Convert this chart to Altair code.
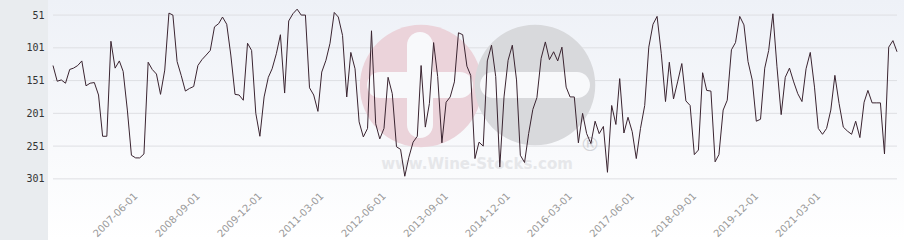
import altair as alt
import pandas as pd

# ---------------- data ----------------
START = "2005-10-01"
VALUES = [
    128, 152, 150, 155, 134, 132, 128, 121, 159, 155,
    154, 173, 236, 236, 91, 132, 121, 137, 196, 265,
    269, 269, 263, 123, 134, 141, 172, 135, 48, 51,
    122, 143, 167, 163, 160, 128, 119, 112, 105, 69,
    64, 54, 65, 112, 172, 173, 181, 94, 105, 201,
    236, 176, 146, 133, 110, 81, 170, 60, 49, 42,
    51, 51, 162, 173, 198, 138, 120, 94, 47, 54,
    82, 176, 108, 133, 214, 237, 224, 75, 217, 240,
    224, 146, 171, 252, 256, 297, 268, 245, 236, 128,
    222, 186, 93, 145, 246, 184, 176, 153, 78, 81,
    129, 143, 270, 245, 251, 121, 97, 145, 283, 176,
    120, 97, 150, 265, 276, 232, 195, 177, 117, 92,
    119, 107, 121, 100, 161, 176, 176, 246, 201, 232,
    247, 213, 232, 221, 291, 189, 218, 148, 231, 207,
    229, 270, 224, 189, 100, 65, 53, 110, 183, 123,
    179, 153, 125, 182, 189, 264, 257, 139, 166, 167,
    275, 264, 196, 181, 104, 93, 53, 66, 122, 150,
    213, 210, 132, 105, 49, 130, 203, 146, 132, 153,
    171, 183, 133, 108, 161, 224, 233, 224, 196, 143,
    186, 222, 228, 233, 213, 238, 184, 166, 185, 185,
    185, 263, 100, 90, 107,
]
DATES = pd.date_range(START, periods=len(VALUES), freq="MS").strftime("%Y-%m-%d").tolist()
X_TICKS = ["2007-06-01", "2008-09-01", "2009-12-01", "2011-03-01", "2012-06-01",
           "2013-09-01", "2014-12-01", "2016-03-01", "2017-06-01", "2018-09-01",
           "2019-12-01", "2021-03-01"]
Y_TICKS = [51, 101, 151, 201, 251, 301]
WATERMARK = "www.Wine-Stocks.com"

df = pd.DataFrame({"date": DATES, "value": VALUES})

W, H = 844, 190


def ms(s):
    return int(pd.Timestamp(s, tz="UTC").value // 10**6)


x_scale = alt.Scale(type="utc", domain=[ms(DATES[0]), ms(DATES[-1])])
y_scale = alt.Scale(domain=[318, 28], nice=False, zero=False)

y_enc = alt.Y(
    "value:Q",
    scale=y_scale,
    axis=alt.Axis(
        values=Y_TICKS, title=None, ticks=False, domain=False, grid=False,
        labelFont="DejaVu Sans Mono", labelFontSize=10, labelColor="#333333",
        labelPadding=9, zindex=1,
    ),
)

one = alt.Data(values=[{}])

# background gradient
bg = alt.Chart(one).mark_rect(
    color=alt.LinearGradient(
        gradient="linear", x1=0, x2=0, y1=0, y2=1,
        stops=[alt.GradientStop(color="#eef1f7", offset=0),
               alt.GradientStop(color="#ffffff", offset=1)],
    )
).encode(x=alt.value(-5), x2=alt.value(W + 7), y=alt.value(0), y2=alt.value(240))

# grid lines
grid = alt.Chart(alt.Data(values=[{"value": v} for v in Y_TICKS])).mark_rule(
    color="#dedfe3", strokeWidth=1
).encode(y=y_enc, x=alt.value(0), x2=alt.value(W))

# watermark
pink = alt.Chart(one).mark_circle(color="#ebd3da", opacity=1, size=14957).encode(
    x=alt.value(368), y=alt.value(86))
gray = alt.Chart(one).mark_circle(color="#d8d9dc", opacity=1, size=14527).encode(
    x=alt.value(482), y=alt.value(85))
plus_v = alt.Chart(one).mark_rect(color="#f8f9fb", cornerRadius=13).encode(
    x=alt.value(354), x2=alt.value(380), y=alt.value(32), y2=alt.value(138))
plus_h = alt.Chart(one).mark_rect(color="#f8f9fb", cornerRadius=13).encode(
    x=alt.value(314), x2=alt.value(420), y=alt.value(72), y2=alt.value(98))
minus = alt.Chart(one).mark_rect(color="#f8f9fb", cornerRadius=13).encode(
    x=alt.value(427), x2=alt.value(537), y=alt.value(72), y2=alt.value(98))
wm_text = alt.Chart(one).mark_text(
    text=WATERMARK, font="DejaVu Sans", fontSize=15, fontWeight="bold",
    color="#e6e7ea", align="center", baseline="middle",
).encode(x=alt.value(424), y=alt.value(164))
reg = alt.Chart(one).mark_text(
    text="®", font="DejaVu Sans", fontSize=20, color="#d3d4d8",
    align="center", baseline="middle",
).encode(x=alt.value(537), y=alt.value(145))

# the series
line = alt.Chart(df).mark_line(color="#3a2430", strokeWidth=1).encode(
    x=alt.X(
        "date:T",
        scale=x_scale,
        axis=alt.Axis(
            values=[ms(t) for t in X_TICKS], title=None, ticks=False, domain=False,
            grid=False, labelAngle=-45, labelAlign="right", labelBaseline="middle",
            labelFont="DejaVu Sans", labelFontSize=10, labelColor="#999999",
            labelPadding=4, labelOverlap=False, zindex=1,
            labelExpr="utcFormat(datum.value, '%Y-%m-%d')",
        ),
    ),
    y=y_enc,
)

chart = alt.layer(bg, grid, pink, gray, plus_v, plus_h, minus, wm_text, reg, line).properties(
    width=W, height=H,
    background="#e9ecef",
    padding={"left": 53, "top": 0, "right": 7, "bottom": 50},
    autosize=alt.AutoSizeParams(type="none"),
).configure_view(stroke=None)

chart.save("out.html", embed_options={"renderer": "svg", "actions": False})
